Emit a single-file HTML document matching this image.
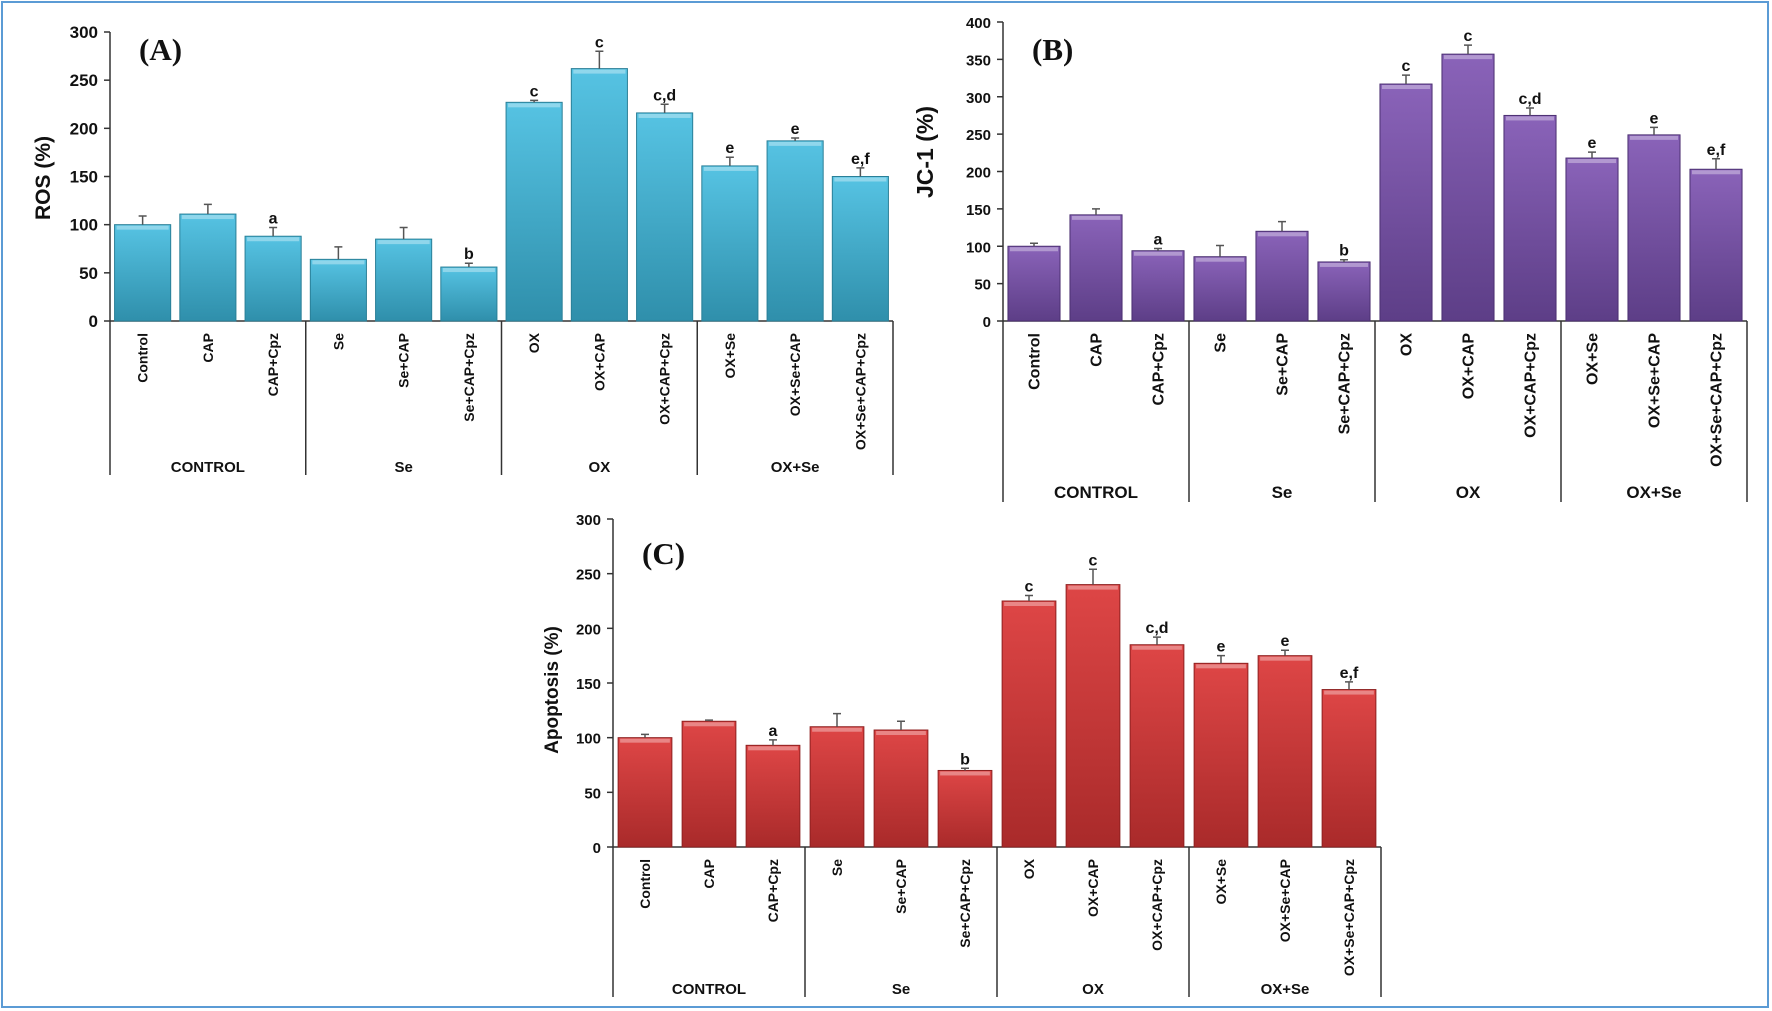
<!DOCTYPE html>
<html><head><meta charset="utf-8"><style>
html,body{margin:0;padding:0;background:#fff}
svg{display:block;font-family:"Liberation Sans",Arial,sans-serif}
</style></head><body>
<svg id="fig" width="1772" height="1011" viewBox="0 0 1772 1011" xmlns="http://www.w3.org/2000/svg">
<defs>
<linearGradient id="gA" x1="0" y1="0" x2="0" y2="1"><stop offset="0" stop-color="#56c3e3"/><stop offset="1" stop-color="#2f8fab"/></linearGradient>
<linearGradient id="gB" x1="0" y1="0" x2="0" y2="1"><stop offset="0" stop-color="#8a63b9"/><stop offset="1" stop-color="#5d3e87"/></linearGradient>
<linearGradient id="gC" x1="0" y1="0" x2="0" y2="1"><stop offset="0" stop-color="#de4646"/><stop offset="1" stop-color="#a92a2a"/></linearGradient>
</defs>
<rect x="2" y="2" width="1766" height="1005" fill="none" stroke="#5b9bd5" stroke-width="2"/>
</svg>
<script>
const categories = ["Control","CAP","CAP+Cpz","Se","Se+CAP","Se+CAP+Cpz","OX","OX+CAP","OX+CAP+Cpz","OX+Se","OX+Se+CAP","OX+Se+CAP+Cpz"];
const groups = ["CONTROL","Se","OX","OX+Se"];
const letters = ["","","a","","","b","c","c","c,d","e","e","e,f"];
const rosValues = [100,111,88,64,85,56,227,262,216,161,187,150];
const rosErrors = [9,10,9,13,12,4,2,18,9,9,3,9];
const rosTicks = [0,50,100,150,200,250,300];
const jcValues = [100,142,94,86,120,79,317,357,275,218,249,203];
const jcErrors = [4,8,3,15,13,3,12,12,10,8,10,14];
const jcTicks = [0,50,100,150,200,250,300,350,400];
const apoValues = [100,115,93,110,107,70,225,240,185,168,175,144];
const apoErrors = [3,1,5,12,8,2,5,14,7,7,5,7];
const apoTicks = [0,50,100,150,200,250,300];

const NS="http://www.w3.org/2000/svg";
const svg=document.getElementById('fig');
function mk(tag,attrs,parent){const e=document.createElementNS(NS,tag);for(const k in attrs)e.setAttribute(k,attrs[k]);(parent||svg).appendChild(e);return e;}

function panel(p){
  const g=mk('g',{});
  
  
  const cw=(p.x1-p.x0)/categories.length;
  const yOf=v=>p.y0-(v/p.max)*(p.y0-p.yTop);
  const xOf=i=>p.x0+cw*i+cw/2;
  // y axis
  const ax=mk('line',{x1:p.x0,y1:p.yTop,x2:p.x0,y2:p.tableBottom,stroke:'#333','stroke-width':1.5},g);
  
  
  p.ticks.forEach(t=>{
    const y=yOf(t);
    mk('line',{x1:p.x0-6,y1:y,x2:p.x0,y2:y,stroke:'#333','stroke-width':1.5},g);
    const tx=mk('text',{x:p.x0-12,y:y+6,'text-anchor':'end','font-size':p.tickFs,'font-weight':'bold',fill:'#111'},g);
    tx.textContent=t;
    
    
  });
  // y title
  const yt=mk('text',{x:p.ytX,y:p.ytY,'text-anchor':'middle','font-size':p.ytFs,'font-weight':'bold',fill:'#111',transform:`rotate(-90 ${p.ytX} ${p.ytY})`},g);
  yt.textContent=p.yTitle;
  
  
  // panel label
  const pl=mk('text',{x:p.lblX,y:p.lblY,'font-size':p.lblFs,'font-weight':'bold','font-family':'"Liberation Serif",serif',fill:'#111'},g);
  pl.textContent=p.label;
  
  
  // x axis
  const xa=mk('line',{x1:p.x0,y1:p.y0,x2:p.x1,y2:p.y0,stroke:'#333','stroke-width':1.5},g);
  
  
  // group separators
  for(let k=1;k<=groups.length;k++){
    const x=p.x0+cw*3*k;
    mk('line',{x1:x,y1:p.y0,x2:x,y2:p.tableBottom,stroke:'#333','stroke-width':1.5},g);
  }
  groups.forEach((gn,k)=>{
    const t=mk('text',{x:p.x0+cw*3*k+cw*1.5,y:p.groupY,'text-anchor':'middle','font-size':p.groupFs,'font-weight':'bold',fill:'#111'},g);
    t.textContent=gn;
    
    
  });
  const bw=cw*p.bwFrac;
  p.values.forEach((v,i)=>{
    const cx=xOf(i),y=yOf(v);
    const b=mk('rect',{x:cx-bw/2,y:y,width:bw,height:p.y0-y,fill:p.fill,stroke:p.stroke,'stroke-width':1},g);
    
    
    mk('rect',{x:cx-bw/2+2,y:y+1,width:bw-4,height:4,fill:'#ffffff','fill-opacity':0.35},g);
    const ye=yOf(v+p.errors[i]);
    const eb=mk('path',{d:`M${cx} ${y}V${ye}M${cx-4} ${ye}H${cx+4}`,stroke:'#555','stroke-width':1.5,fill:'none'},g);
    
    
    if(letters[i]){
      const lt=mk('text',{x:cx,y:ye-4,'text-anchor':'middle','font-size':p.letFs,'font-weight':'bold',fill:'#111'},g);
      lt.textContent=letters[i];
      
      
    }
    const cy=p.y0+12;
    const cl=mk('text',{x:cx+p.catFs*0.35,y:cy,'text-anchor':'end','font-size':p.catFs,'font-weight':'bold',fill:'#111',transform:`rotate(-90 ${cx+p.catFs*0.35} ${cy})`},g);
    cl.setAttribute('x',cx+p.catFs*0.35);
    cl.textContent=categories[i];
    
    
  });
}
panel({name:'panel-a-ros',x0:110,x1:893,y0:321,yTop:32,max:300,tableBottom:475,groupY:472,values:rosValues,errors:rosErrors,ticks:rosTicks,
  fill:'url(#gA)',stroke:'#2a7f97',yTitle:'ROS (%)',ytX:50,ytY:178,ytFs:21,label:'(A)',lblX:139,lblY:60,lblFs:31,tickFs:17,catFs:14,groupFs:15,letFs:16,bwFrac:0.86});
panel({name:'panel-b-jc1',x0:1003,x1:1747,y0:321,yTop:22,max:400,tableBottom:502,groupY:498,values:jcValues,errors:jcErrors,ticks:jcTicks,
  fill:'url(#gB)',stroke:'#4a2f70',yTitle:'JC-1 (%)',ytX:933,ytY:152,ytFs:23,label:'(B)',lblX:1032,lblY:60,lblFs:31,tickFs:15,catFs:16,groupFs:17,letFs:16,bwFrac:0.84});
panel({name:'panel-c-apoptosis',x0:613,x1:1381,y0:847,yTop:519,max:300,tableBottom:997,groupY:994,values:apoValues,errors:apoErrors,ticks:apoTicks,
  fill:'url(#gC)',stroke:'#8e2020',yTitle:'Apoptosis (%)',ytX:558,ytY:690,ytFs:19,label:'(C)',lblX:642,lblY:564,lblFs:31,tickFs:15,catFs:14,groupFs:15,letFs:16,bwFrac:0.84});
</script>
</body></html>
